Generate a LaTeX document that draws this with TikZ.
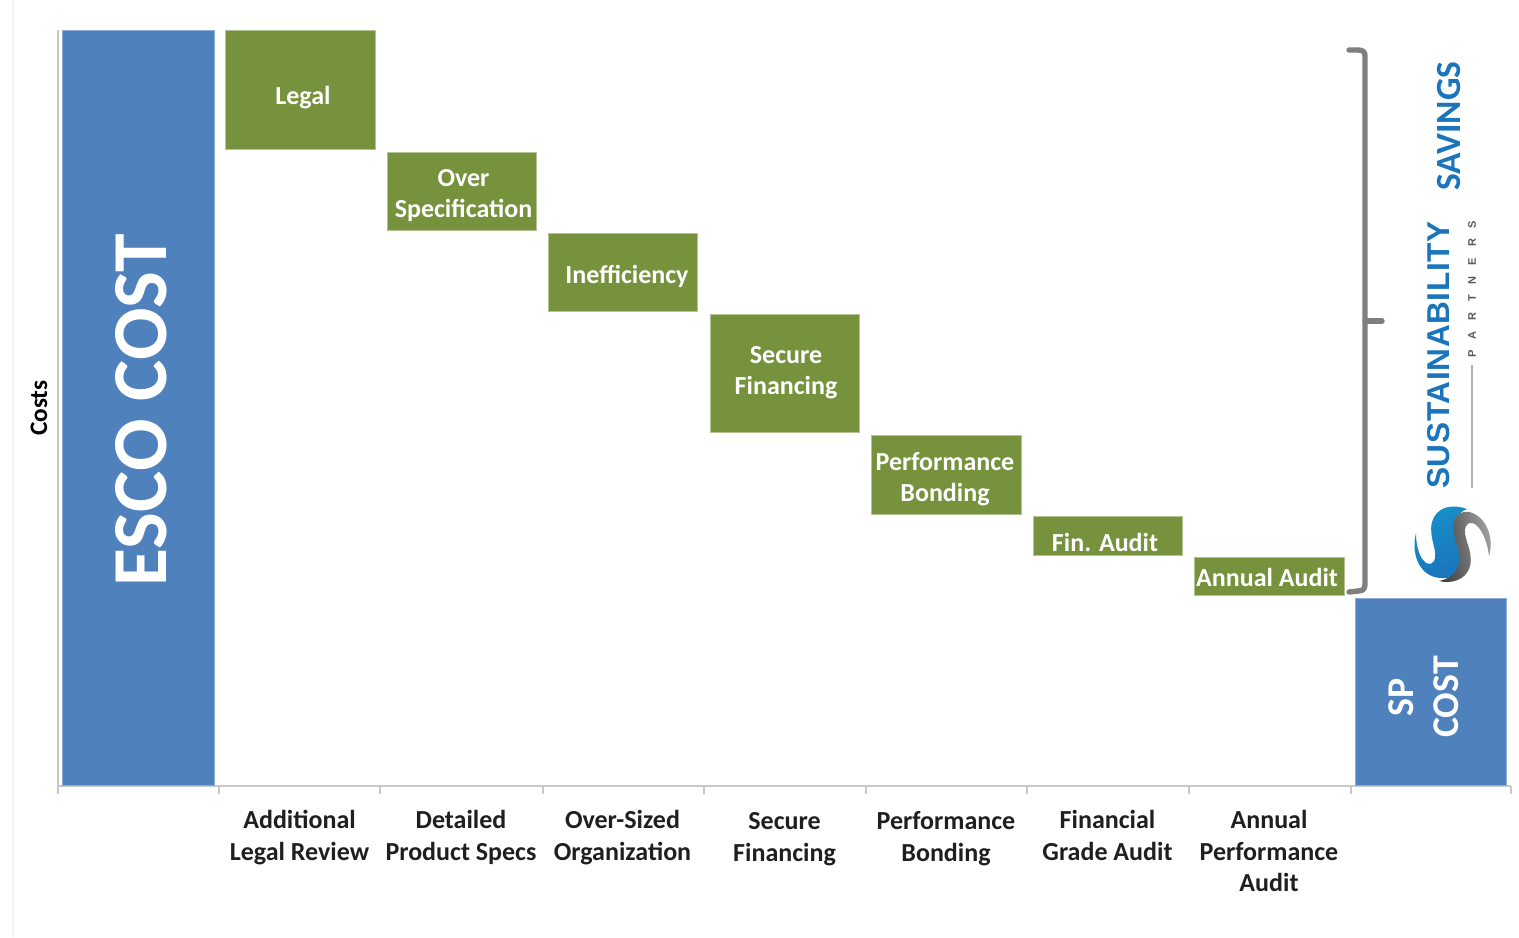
\documentclass[tikz,border=0pt]{standalone}
\usepackage{fontspec}
\setmainfont{Carlito}
\newfontfamily\logofont[LetterSpace=2]{Liberation Sans}
\newfontfamily\partfont[LetterSpace=100]{Liberation Sans}
\definecolor{barblue}{HTML}{4F81BD}
\definecolor{boxgreen}{HTML}{76923C}
\definecolor{axisgray}{HTML}{C8C8C8}
\definecolor{bracegray}{HTML}{7F7F7F}
\definecolor{logoblue}{HTML}{1B75BC}
\begin{document}
\begin{tikzpicture}[x=0.5pt,y=-0.5pt,
  greenbox/.style={fill=boxgreen,draw=boxgreen!55!white,line width=0.4pt,inner sep=0pt,outer sep=0pt,anchor=north west},
  bluebar/.style={fill=barblue,draw=barblue!65!white,line width=0.4pt,inner sep=0pt,outer sep=0pt,anchor=north west},
  boxlabel/.style={text=white,font=\bfseries\fontsize{13}{15.5}\selectfont,align=center,inner sep=0pt},
  catlabel/.style={text=black!88,font=\bfseries\fontsize{13}{15.8}\selectfont,align=center,inner sep=0pt,anchor=north},
  axisline/.style={draw=axisgray,line width=1pt},
  bracestroke/.style={draw=bracegray,line width=2.7pt,line cap=round,line join=round}]
\useasboundingbox (0,0) rectangle (1519,937);
\fill[white] (0,0) rectangle (1519,937);
% faint page edge
\draw[draw=black!5,line width=0.8pt] (13,0) -- (13,937);
% axes
\coordinate (o) at (58,786);
\coordinate (top) at (58,30);
\coordinate (end) at (1511,786);
\draw[axisline] (top) -- (o) -- (end);
\foreach \x in {58,219,380,543,704,866,1027,1189,1351,1511}
  \draw[axisline] (\x,786) -- (\x,794);
% bars
\node[bluebar,minimum width=76pt,minimum height=377.5pt] (esco) at (62,30) {};
\node[bluebar,minimum width=75.5pt,minimum height=93.5pt] (sp) at (1355,598) {};
\node[rotate=90,text=white,font=\bfseries\fontsize{38.9}{44}\selectfont,inner sep=0pt] (escot) at (141,410) {ESCO COST};
\node[rotate=90,text=white,font=\bfseries\fontsize{18.9}{22.5}\selectfont,align=center,inner sep=0pt] (spt) at (1423.5,697) {SP\\COST};
% green boxes
\node[greenbox,minimum width=75pt,minimum height=59.8pt] (b1) at (225,30) {};
\node[greenbox,minimum width=74.8pt,minimum height=39.3pt] (b2) at (387,152) {};
\node[greenbox,minimum width=74.8pt,minimum height=39.3pt] (b3) at (548,233) {};
\node[greenbox,minimum width=74.8pt,minimum height=59.3pt] (b4) at (710,314) {};
\node[greenbox,minimum width=75pt,minimum height=39.8pt] (b5) at (871,435) {};
\node[greenbox,minimum width=74.8pt,minimum height=19.8pt] (b6) at (1033,516) {};
\node[greenbox,minimum width=75pt,minimum height=19.3pt] (b7) at (1194,557) {};
\node[boxlabel] (t1) at (303,98) {Legal};
\node[boxlabel] (t2) at (463.5,196) {Over\\Specification};
\node[boxlabel] (t3) at (627,276) {Inefficiency};
\node[boxlabel] (t4) at (786,373) {Secure\\Financing};
\node[boxlabel] (t5) at (945,479) {Performance\\Bonding};
\node[boxlabel] (t6) at (1105,542) {Fin. Audit};
\node[boxlabel] (t7) at (1267,577) {Annual Audit};
% category labels
\node[catlabel] (c1) at (299.5,810) {Additional\\Legal Review};
\node[catlabel] (c2) at (461,810) {Detailed\\Product Specs};
\node[catlabel] (c3) at (622.5,810) {Over-Sized\\Organization};
\node[catlabel] (c4) at (784.5,812) {Secure\\Financing};
\node[catlabel] (c5) at (946,811) {Performance\\Bonding};
\node[catlabel] (c6) at (1107.5,810) {Financial\\Grade Audit};
\node[catlabel] (c7) at (1269,810) {Annual\\Performance\\Audit};
\node[rotate=90,text=black,font=\bfseries\fontsize{12.6}{14}\selectfont,inner sep=0pt] (costs) at (39,408) {Costs};
% brace
\coordinate (bt) at (1349,50);
\coordinate (bb) at (1349,592);
\coordinate (bm) at (1382,321);
\draw[bracestroke] (bt) -- (1358,50) .. controls (1363,50) and (1365,52) .. (1365,56)
  -- (1365,584) .. controls (1365,589) and (1363,591) .. (1358,591) -- (bb);
\draw[bracestroke] (1365,321) -- (bm);
% logo text
\node[rotate=90,text=logoblue,font=\bfseries\fontsize{17.7}{20}\selectfont,inner sep=0pt] (sav) at (1449,126) {SAVINGS};
\node[rotate=90,text=logoblue,font=\logofont\bfseries\fontsize{15.8}{18}\selectfont,inner sep=0pt] (sus) at (1439,355) {SUSTAINABILITY};
\node[rotate=90,text=black!65,font=\partfont\bfseries\fontsize{5.5}{6}\selectfont,inner sep=0pt] (par) at (1472,289) {PARTNERS};
\draw[draw=black!30,line width=0.8pt] (1472,488) -- (1472,365);
% logo swirl
\shade[bottom color=logoblue,top color=logoblue!80!cyan,shading angle=20]
  (1416,533) .. controls (1411,552) and (1418,577) .. (1441,578)
  .. controls (1454,579) and (1460,573) .. (1461,566)
  .. controls (1463,550) and (1450,535) .. (1455,521)
  .. controls (1457,516) and (1461,511) .. (1467,509)
  .. controls (1450,503) and (1436,508) .. (1432,522)
  .. controls (1428,538) and (1439,552) .. (1434,561)
  .. controls (1428,570) and (1416,558) .. (1416,533) -- cycle;
\shade[left color=black!75,right color=black!35,shading angle=100]
  (1489,556) .. controls (1495,535) and (1484,515) .. (1469,512)
  .. controls (1456,510) and (1451,522) .. (1454,534)
  .. controls (1458,549) and (1463,562) .. (1455,572)
  .. controls (1451,577) and (1445,580) .. (1439,581)
  .. controls (1450,584) and (1466,581) .. (1470,566)
  .. controls (1474,550) and (1461,536) .. (1466,526)
  .. controls (1472,516) and (1486,530) .. (1489,556) -- cycle;
\end{tikzpicture}
\end{document}
